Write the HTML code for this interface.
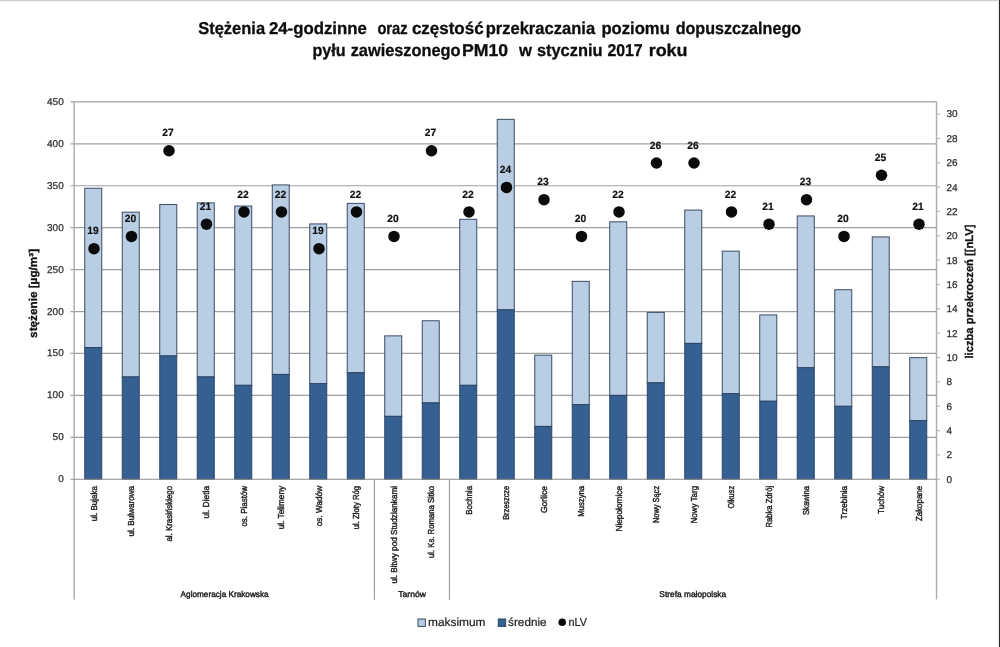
<!DOCTYPE html>
<html lang="pl"><head><meta charset="utf-8"><title>Stężenia 24-godzinne PM10</title>
<style>
html,body{margin:0;padding:0;background:#fff;}
body{width:1000px;height:647px;overflow:hidden;position:relative;font-family:"Liberation Sans",sans-serif;}
svg{position:absolute;left:0;top:0;display:block;}
text{font-family:"Liberation Sans",sans-serif;fill:#1a1a1a;text-rendering:geometricPrecision;}
.t{font-weight:bold;font-size:17.1px;fill:#0d0d0d;stroke:#0d0d0d;stroke-width:0.3px;}
.n{font-size:9.9px;fill:#2e2e2e;stroke:#2e2e2e;stroke-width:0.25px;}
.d{font-size:10.5px;font-weight:bold;fill:#101010;stroke:#101010;stroke-width:0.2px;}
.c{font-size:8.7px;fill:#1c1c1c;stroke:#1c1c1c;stroke-width:0.4px;}
.g{font-size:8.3px;fill:#1c1c1c;stroke:#1c1c1c;stroke-width:0.4px;}
.a{font-size:11.3px;font-weight:bold;fill:#101010;stroke:#101010;stroke-width:0.3px;}
.l{font-size:11.6px;fill:#222;stroke:#222;stroke-width:0.2px;}
</style></head><body>
<svg width="1000" height="647" viewBox="0 0 1000 647">
<rect x="0" y="0" width="1000" height="647" fill="#ffffff"/>
<rect x="0" y="0" width="1000" height="1" fill="#d2d2d2"/>
<rect x="0" y="1" width="1000" height="1" fill="#f1f1f1"/>
<rect x="999" y="0" width="1" height="647" fill="#2b2b2b"/>
<rect x="998" y="0" width="1" height="647" fill="#e6e6e6"/>

<text class="t" x="198.15" y="34.2" textLength="66.95" lengthAdjust="spacingAndGlyphs">Stężenia</text>
<text class="t" x="268.90" y="34.2" textLength="97.95" lengthAdjust="spacingAndGlyphs">24-godzinne</text>
<text class="t" x="377.40" y="34.2" textLength="30.20" lengthAdjust="spacingAndGlyphs">oraz</text>
<text class="t" x="411.90" y="34.2" textLength="71.70" lengthAdjust="spacingAndGlyphs">częstość</text>
<text class="t" x="485.65" y="34.2" textLength="109.45" lengthAdjust="spacingAndGlyphs">przekraczania</text>
<text class="t" x="601.40" y="34.2" textLength="68.45" lengthAdjust="spacingAndGlyphs">poziomu</text>
<text class="t" x="675.65" y="34.2" textLength="125.45" lengthAdjust="spacingAndGlyphs">dopuszczalnego</text>
<text class="t" x="312.40" y="56.2" textLength="33.20" lengthAdjust="spacingAndGlyphs">pyłu</text>
<text class="t" x="350.65" y="56.2" textLength="109.95" lengthAdjust="spacingAndGlyphs">zawieszonego</text>
<text class="t" x="461.90" y="56.2" textLength="46.20" lengthAdjust="spacingAndGlyphs">PM10</text>
<text class="t" x="518.90" y="56.2" textLength="12.95" lengthAdjust="spacingAndGlyphs">w</text>
<text class="t" x="536.90" y="56.2" textLength="65.70" lengthAdjust="spacingAndGlyphs">styczniu</text>
<text class="t" x="607.40" y="56.2" textLength="35.20" lengthAdjust="spacingAndGlyphs">2017</text>
<text class="t" x="648.65" y="56.2" textLength="38.95" lengthAdjust="spacingAndGlyphs">roku</text>
<line x1="70.55" x2="936.50" y1="437.32" y2="437.32" stroke="#a0a0a0" stroke-width="1.2"/>
<line x1="70.55" x2="936.50" y1="395.39" y2="395.39" stroke="#a0a0a0" stroke-width="1.2"/>
<line x1="70.55" x2="936.50" y1="353.47" y2="353.47" stroke="#a0a0a0" stroke-width="1.2"/>
<line x1="70.55" x2="936.50" y1="311.54" y2="311.54" stroke="#a0a0a0" stroke-width="1.2"/>
<line x1="70.55" x2="936.50" y1="269.61" y2="269.61" stroke="#a0a0a0" stroke-width="1.2"/>
<line x1="70.55" x2="936.50" y1="227.68" y2="227.68" stroke="#a0a0a0" stroke-width="1.2"/>
<line x1="70.55" x2="936.50" y1="185.76" y2="185.76" stroke="#a0a0a0" stroke-width="1.2"/>
<line x1="70.55" x2="936.50" y1="143.83" y2="143.83" stroke="#a0a0a0" stroke-width="1.2"/>
<line x1="70.55" x2="936.50" y1="101.90" y2="101.90" stroke="#a0a0a0" stroke-width="1.2"/>
<text class="n" x="63.7" y="482.25" text-anchor="end" textLength="5.55" lengthAdjust="spacingAndGlyphs">0</text>
<text class="n" x="63.7" y="440.32" text-anchor="end" textLength="11.10" lengthAdjust="spacingAndGlyphs">50</text>
<text class="n" x="63.7" y="398.39" text-anchor="end" textLength="16.65" lengthAdjust="spacingAndGlyphs">100</text>
<text class="n" x="63.7" y="356.47" text-anchor="end" textLength="16.65" lengthAdjust="spacingAndGlyphs">150</text>
<text class="n" x="63.7" y="314.54" text-anchor="end" textLength="16.65" lengthAdjust="spacingAndGlyphs">200</text>
<text class="n" x="63.7" y="272.61" text-anchor="end" textLength="16.65" lengthAdjust="spacingAndGlyphs">250</text>
<text class="n" x="63.7" y="230.68" text-anchor="end" textLength="16.65" lengthAdjust="spacingAndGlyphs">300</text>
<text class="n" x="63.7" y="188.76" text-anchor="end" textLength="16.65" lengthAdjust="spacingAndGlyphs">350</text>
<text class="n" x="63.7" y="146.83" text-anchor="end" textLength="16.65" lengthAdjust="spacingAndGlyphs">400</text>
<text class="n" x="63.7" y="104.90" text-anchor="end" textLength="16.65" lengthAdjust="spacingAndGlyphs">450</text>
<rect x="84.75" y="188.27" width="17.0" height="159.33" fill="#b9cde5" stroke="#3b4b63" stroke-width="1"/>
<rect x="84.75" y="347.60" width="17.0" height="131.65" fill="#376092" stroke="#2a4568" stroke-width="1"/>
<rect x="122.25" y="212.17" width="17.0" height="164.78" fill="#b9cde5" stroke="#3b4b63" stroke-width="1"/>
<rect x="122.25" y="376.95" width="17.0" height="102.30" fill="#376092" stroke="#2a4568" stroke-width="1"/>
<rect x="159.75" y="204.54" width="17.0" height="151.44" fill="#b9cde5" stroke="#3b4b63" stroke-width="1"/>
<rect x="159.75" y="355.98" width="17.0" height="123.27" fill="#376092" stroke="#2a4568" stroke-width="1"/>
<rect x="197.25" y="202.86" width="17.0" height="174.08" fill="#b9cde5" stroke="#3b4b63" stroke-width="1"/>
<rect x="197.25" y="376.95" width="17.0" height="102.30" fill="#376092" stroke="#2a4568" stroke-width="1"/>
<rect x="234.75" y="206.05" width="17.0" height="179.28" fill="#b9cde5" stroke="#3b4b63" stroke-width="1"/>
<rect x="234.75" y="385.33" width="17.0" height="93.92" fill="#376092" stroke="#2a4568" stroke-width="1"/>
<rect x="272.25" y="184.92" width="17.0" height="189.51" fill="#b9cde5" stroke="#3b4b63" stroke-width="1"/>
<rect x="272.25" y="374.43" width="17.0" height="104.82" fill="#376092" stroke="#2a4568" stroke-width="1"/>
<rect x="309.75" y="223.91" width="17.0" height="159.74" fill="#b9cde5" stroke="#3b4b63" stroke-width="1"/>
<rect x="309.75" y="383.65" width="17.0" height="95.60" fill="#376092" stroke="#2a4568" stroke-width="1"/>
<rect x="347.25" y="203.37" width="17.0" height="169.39" fill="#b9cde5" stroke="#3b4b63" stroke-width="1"/>
<rect x="347.25" y="372.75" width="17.0" height="106.50" fill="#376092" stroke="#2a4568" stroke-width="1"/>
<rect x="384.75" y="335.86" width="17.0" height="80.50" fill="#b9cde5" stroke="#3b4b63" stroke-width="1"/>
<rect x="384.75" y="416.36" width="17.0" height="62.89" fill="#376092" stroke="#2a4568" stroke-width="1"/>
<rect x="422.25" y="320.76" width="17.0" height="82.18" fill="#b9cde5" stroke="#3b4b63" stroke-width="1"/>
<rect x="422.25" y="402.94" width="17.0" height="76.31" fill="#376092" stroke="#2a4568" stroke-width="1"/>
<rect x="459.75" y="219.30" width="17.0" height="166.03" fill="#b9cde5" stroke="#3b4b63" stroke-width="1"/>
<rect x="459.75" y="385.33" width="17.0" height="93.92" fill="#376092" stroke="#2a4568" stroke-width="1"/>
<rect x="497.25" y="119.34" width="17.0" height="190.52" fill="#b9cde5" stroke="#3b4b63" stroke-width="1"/>
<rect x="497.25" y="309.86" width="17.0" height="169.39" fill="#376092" stroke="#2a4568" stroke-width="1"/>
<rect x="534.75" y="355.14" width="17.0" height="71.28" fill="#b9cde5" stroke="#3b4b63" stroke-width="1"/>
<rect x="534.75" y="426.42" width="17.0" height="52.83" fill="#376092" stroke="#2a4568" stroke-width="1"/>
<rect x="572.25" y="281.35" width="17.0" height="123.27" fill="#b9cde5" stroke="#3b4b63" stroke-width="1"/>
<rect x="572.25" y="404.62" width="17.0" height="74.63" fill="#376092" stroke="#2a4568" stroke-width="1"/>
<rect x="609.75" y="221.81" width="17.0" height="173.58" fill="#b9cde5" stroke="#3b4b63" stroke-width="1"/>
<rect x="609.75" y="395.39" width="17.0" height="83.86" fill="#376092" stroke="#2a4568" stroke-width="1"/>
<rect x="647.25" y="312.38" width="17.0" height="70.44" fill="#b9cde5" stroke="#3b4b63" stroke-width="1"/>
<rect x="647.25" y="382.82" width="17.0" height="96.43" fill="#376092" stroke="#2a4568" stroke-width="1"/>
<rect x="684.75" y="210.07" width="17.0" height="133.33" fill="#b9cde5" stroke="#3b4b63" stroke-width="1"/>
<rect x="684.75" y="343.40" width="17.0" height="135.85" fill="#376092" stroke="#2a4568" stroke-width="1"/>
<rect x="722.25" y="251.16" width="17.0" height="142.55" fill="#b9cde5" stroke="#3b4b63" stroke-width="1"/>
<rect x="722.25" y="393.72" width="17.0" height="85.53" fill="#376092" stroke="#2a4568" stroke-width="1"/>
<rect x="759.75" y="314.89" width="17.0" height="86.37" fill="#b9cde5" stroke="#3b4b63" stroke-width="1"/>
<rect x="759.75" y="401.26" width="17.0" height="77.99" fill="#376092" stroke="#2a4568" stroke-width="1"/>
<rect x="797.25" y="215.94" width="17.0" height="151.78" fill="#b9cde5" stroke="#3b4b63" stroke-width="1"/>
<rect x="797.25" y="367.72" width="17.0" height="111.53" fill="#376092" stroke="#2a4568" stroke-width="1"/>
<rect x="834.75" y="289.74" width="17.0" height="116.56" fill="#b9cde5" stroke="#3b4b63" stroke-width="1"/>
<rect x="834.75" y="406.30" width="17.0" height="72.95" fill="#376092" stroke="#2a4568" stroke-width="1"/>
<rect x="872.25" y="236.91" width="17.0" height="129.98" fill="#b9cde5" stroke="#3b4b63" stroke-width="1"/>
<rect x="872.25" y="366.88" width="17.0" height="112.37" fill="#376092" stroke="#2a4568" stroke-width="1"/>
<rect x="909.75" y="357.66" width="17.0" height="62.89" fill="#b9cde5" stroke="#3b4b63" stroke-width="1"/>
<rect x="909.75" y="420.55" width="17.0" height="58.70" fill="#376092" stroke="#2a4568" stroke-width="1"/>
<line x1="74.15" x2="74.15" y1="101.20" y2="599.6" stroke="#acacac" stroke-width="1.4"/>
<line x1="936.50" x2="936.50" y1="101.20" y2="599.6" stroke="#acacac" stroke-width="1.4"/>
<line x1="70.55" x2="936.50" y1="479.25" y2="479.25" stroke="#8e8e8e" stroke-width="1.2"/>
<line x1="374.45" x2="374.45" y1="479.25" y2="599.8" stroke="#989898" stroke-width="1.1"/>
<line x1="449.43" x2="449.43" y1="479.25" y2="599.8" stroke="#989898" stroke-width="1.1"/>
<line x1="936.50" x2="939.90" y1="479.25" y2="479.25" stroke="#b2b2b2" stroke-width="1.1"/>
<text class="n" x="946.4" y="482.65" textLength="5.55" lengthAdjust="spacingAndGlyphs">0</text>
<line x1="936.50" x2="939.90" y1="454.90" y2="454.90" stroke="#b2b2b2" stroke-width="1.1"/>
<text class="n" x="946.4" y="458.30" textLength="5.55" lengthAdjust="spacingAndGlyphs">2</text>
<line x1="936.50" x2="939.90" y1="430.56" y2="430.56" stroke="#b2b2b2" stroke-width="1.1"/>
<text class="n" x="946.4" y="433.96" textLength="5.55" lengthAdjust="spacingAndGlyphs">4</text>
<line x1="936.50" x2="939.90" y1="406.21" y2="406.21" stroke="#b2b2b2" stroke-width="1.1"/>
<text class="n" x="946.4" y="409.61" textLength="5.55" lengthAdjust="spacingAndGlyphs">6</text>
<line x1="936.50" x2="939.90" y1="381.87" y2="381.87" stroke="#b2b2b2" stroke-width="1.1"/>
<text class="n" x="946.4" y="385.27" textLength="5.55" lengthAdjust="spacingAndGlyphs">8</text>
<line x1="936.50" x2="939.90" y1="357.52" y2="357.52" stroke="#b2b2b2" stroke-width="1.1"/>
<text class="n" x="946.4" y="360.92" textLength="11.10" lengthAdjust="spacingAndGlyphs">10</text>
<line x1="936.50" x2="939.90" y1="333.18" y2="333.18" stroke="#b2b2b2" stroke-width="1.1"/>
<text class="n" x="946.4" y="336.58" textLength="11.10" lengthAdjust="spacingAndGlyphs">12</text>
<line x1="936.50" x2="939.90" y1="308.83" y2="308.83" stroke="#b2b2b2" stroke-width="1.1"/>
<text class="n" x="946.4" y="312.23" textLength="11.10" lengthAdjust="spacingAndGlyphs">14</text>
<line x1="936.50" x2="939.90" y1="284.49" y2="284.49" stroke="#b2b2b2" stroke-width="1.1"/>
<text class="n" x="946.4" y="287.89" textLength="11.10" lengthAdjust="spacingAndGlyphs">16</text>
<line x1="936.50" x2="939.90" y1="260.14" y2="260.14" stroke="#b2b2b2" stroke-width="1.1"/>
<text class="n" x="946.4" y="263.54" textLength="11.10" lengthAdjust="spacingAndGlyphs">18</text>
<line x1="936.50" x2="939.90" y1="235.80" y2="235.80" stroke="#b2b2b2" stroke-width="1.1"/>
<text class="n" x="946.4" y="239.20" textLength="11.10" lengthAdjust="spacingAndGlyphs">20</text>
<line x1="936.50" x2="939.90" y1="211.45" y2="211.45" stroke="#b2b2b2" stroke-width="1.1"/>
<text class="n" x="946.4" y="214.85" textLength="11.10" lengthAdjust="spacingAndGlyphs">22</text>
<line x1="936.50" x2="939.90" y1="187.11" y2="187.11" stroke="#b2b2b2" stroke-width="1.1"/>
<text class="n" x="946.4" y="190.51" textLength="11.10" lengthAdjust="spacingAndGlyphs">24</text>
<line x1="936.50" x2="939.90" y1="162.76" y2="162.76" stroke="#b2b2b2" stroke-width="1.1"/>
<text class="n" x="946.4" y="166.16" textLength="11.10" lengthAdjust="spacingAndGlyphs">26</text>
<line x1="936.50" x2="939.90" y1="138.42" y2="138.42" stroke="#b2b2b2" stroke-width="1.1"/>
<text class="n" x="946.4" y="141.82" textLength="11.10" lengthAdjust="spacingAndGlyphs">28</text>
<line x1="936.50" x2="939.90" y1="114.07" y2="114.07" stroke="#b2b2b2" stroke-width="1.1"/>
<text class="n" x="946.4" y="117.47" textLength="11.10" lengthAdjust="spacingAndGlyphs">30</text>
<circle cx="94.00" cy="248.64" r="5.75" fill="#0a0a0a"/>
<text class="d" x="93.00" y="234.34" text-anchor="middle" textLength="11.4" lengthAdjust="spacingAndGlyphs">19</text>
<circle cx="131.50" cy="236.40" r="5.75" fill="#0a0a0a"/>
<text class="d" x="130.50" y="222.10" text-anchor="middle" textLength="11.4" lengthAdjust="spacingAndGlyphs">20</text>
<circle cx="169.00" cy="150.72" r="5.75" fill="#0a0a0a"/>
<text class="d" x="168.00" y="136.42" text-anchor="middle" textLength="11.4" lengthAdjust="spacingAndGlyphs">27</text>
<circle cx="206.50" cy="224.16" r="5.75" fill="#0a0a0a"/>
<text class="d" x="205.50" y="209.86" text-anchor="middle" textLength="11.4" lengthAdjust="spacingAndGlyphs">21</text>
<circle cx="244.00" cy="211.92" r="5.75" fill="#0a0a0a"/>
<text class="d" x="243.00" y="197.62" text-anchor="middle" textLength="11.4" lengthAdjust="spacingAndGlyphs">22</text>
<circle cx="281.50" cy="211.92" r="5.75" fill="#0a0a0a"/>
<text class="d" x="280.50" y="197.62" text-anchor="middle" textLength="11.4" lengthAdjust="spacingAndGlyphs">22</text>
<circle cx="319.00" cy="248.64" r="5.75" fill="#0a0a0a"/>
<text class="d" x="318.00" y="234.34" text-anchor="middle" textLength="11.4" lengthAdjust="spacingAndGlyphs">19</text>
<circle cx="356.50" cy="211.92" r="5.75" fill="#0a0a0a"/>
<text class="d" x="355.50" y="197.62" text-anchor="middle" textLength="11.4" lengthAdjust="spacingAndGlyphs">22</text>
<circle cx="394.00" cy="236.40" r="5.75" fill="#0a0a0a"/>
<text class="d" x="393.00" y="222.10" text-anchor="middle" textLength="11.4" lengthAdjust="spacingAndGlyphs">20</text>
<circle cx="431.50" cy="150.72" r="5.75" fill="#0a0a0a"/>
<text class="d" x="430.50" y="136.42" text-anchor="middle" textLength="11.4" lengthAdjust="spacingAndGlyphs">27</text>
<circle cx="469.00" cy="211.92" r="5.75" fill="#0a0a0a"/>
<text class="d" x="468.00" y="197.62" text-anchor="middle" textLength="11.4" lengthAdjust="spacingAndGlyphs">22</text>
<circle cx="506.50" cy="187.44" r="5.75" fill="#0a0a0a"/>
<text class="d" x="505.50" y="173.14" text-anchor="middle" textLength="11.4" lengthAdjust="spacingAndGlyphs">24</text>
<circle cx="544.00" cy="199.68" r="5.75" fill="#0a0a0a"/>
<text class="d" x="543.00" y="185.38" text-anchor="middle" textLength="11.4" lengthAdjust="spacingAndGlyphs">23</text>
<circle cx="581.50" cy="236.40" r="5.75" fill="#0a0a0a"/>
<text class="d" x="580.50" y="222.10" text-anchor="middle" textLength="11.4" lengthAdjust="spacingAndGlyphs">20</text>
<circle cx="619.00" cy="211.92" r="5.75" fill="#0a0a0a"/>
<text class="d" x="618.00" y="197.62" text-anchor="middle" textLength="11.4" lengthAdjust="spacingAndGlyphs">22</text>
<circle cx="656.50" cy="162.96" r="5.75" fill="#0a0a0a"/>
<text class="d" x="655.50" y="148.66" text-anchor="middle" textLength="11.4" lengthAdjust="spacingAndGlyphs">26</text>
<circle cx="694.00" cy="162.96" r="5.75" fill="#0a0a0a"/>
<text class="d" x="693.00" y="148.66" text-anchor="middle" textLength="11.4" lengthAdjust="spacingAndGlyphs">26</text>
<circle cx="731.50" cy="211.92" r="5.75" fill="#0a0a0a"/>
<text class="d" x="730.50" y="197.62" text-anchor="middle" textLength="11.4" lengthAdjust="spacingAndGlyphs">22</text>
<circle cx="769.00" cy="224.16" r="5.75" fill="#0a0a0a"/>
<text class="d" x="768.00" y="209.86" text-anchor="middle" textLength="11.4" lengthAdjust="spacingAndGlyphs">21</text>
<circle cx="806.50" cy="199.68" r="5.75" fill="#0a0a0a"/>
<text class="d" x="805.50" y="185.38" text-anchor="middle" textLength="11.4" lengthAdjust="spacingAndGlyphs">23</text>
<circle cx="844.00" cy="236.40" r="5.75" fill="#0a0a0a"/>
<text class="d" x="843.00" y="222.10" text-anchor="middle" textLength="11.4" lengthAdjust="spacingAndGlyphs">20</text>
<circle cx="881.50" cy="175.20" r="5.75" fill="#0a0a0a"/>
<text class="d" x="880.50" y="160.90" text-anchor="middle" textLength="11.4" lengthAdjust="spacingAndGlyphs">25</text>
<circle cx="919.00" cy="224.16" r="5.75" fill="#0a0a0a"/>
<text class="d" x="918.00" y="209.86" text-anchor="middle" textLength="11.4" lengthAdjust="spacingAndGlyphs">21</text>
<text class="c" transform="translate(96.75,485.9) rotate(-90)" text-anchor="end" textLength="35.45" lengthAdjust="spacingAndGlyphs">ul. Bujaka</text>
<text class="c" transform="translate(134.25,485.9) rotate(-90)" text-anchor="end" textLength="50.70" lengthAdjust="spacingAndGlyphs">ul. Bulwarowa</text>
<text class="c" transform="translate(171.75,485.9) rotate(-90)" text-anchor="end" textLength="55.70" lengthAdjust="spacingAndGlyphs">al. Krasińskiego</text>
<text class="c" transform="translate(209.25,485.9) rotate(-90)" text-anchor="end" textLength="32.70" lengthAdjust="spacingAndGlyphs">ul. Dietla</text>
<text class="c" transform="translate(246.75,485.9) rotate(-90)" text-anchor="end" textLength="40.70" lengthAdjust="spacingAndGlyphs">os. Piastów</text>
<text class="c" transform="translate(284.25,485.9) rotate(-90)" text-anchor="end" textLength="43.45" lengthAdjust="spacingAndGlyphs">ul. Telimeny</text>
<text class="c" transform="translate(321.75,485.9) rotate(-90)" text-anchor="end" textLength="40.40" lengthAdjust="spacingAndGlyphs">os. Wadów</text>
<text class="c" transform="translate(359.25,485.9) rotate(-90)" text-anchor="end" textLength="43.45" lengthAdjust="spacingAndGlyphs">ul. Złoty Róg</text>
<text class="c" transform="translate(396.75,485.9) rotate(-90)" text-anchor="end" textLength="97.70" lengthAdjust="spacingAndGlyphs">ul. Bitwy pod Studziankami</text>
<text class="c" transform="translate(434.25,485.9) rotate(-90)" text-anchor="end" textLength="72.20" lengthAdjust="spacingAndGlyphs">ul. Ks. Romana Sitko</text>
<text class="c" transform="translate(471.75,485.9) rotate(-90)" text-anchor="end" textLength="28.95" lengthAdjust="spacingAndGlyphs">Bochnia</text>
<text class="c" transform="translate(509.25,485.9) rotate(-90)" text-anchor="end" textLength="33.95" lengthAdjust="spacingAndGlyphs">Brzeszcze</text>
<text class="c" transform="translate(546.75,485.9) rotate(-90)" text-anchor="end" textLength="27.20" lengthAdjust="spacingAndGlyphs">Gorlice</text>
<text class="c" transform="translate(584.25,485.9) rotate(-90)" text-anchor="end" textLength="30.95" lengthAdjust="spacingAndGlyphs">Muszyna</text>
<text class="c" transform="translate(621.75,485.9) rotate(-90)" text-anchor="end" textLength="45.70" lengthAdjust="spacingAndGlyphs">Niepołomice</text>
<text class="c" transform="translate(659.25,485.9) rotate(-90)" text-anchor="end" textLength="37.20" lengthAdjust="spacingAndGlyphs">Nowy Sącz</text>
<text class="c" transform="translate(696.75,485.9) rotate(-90)" text-anchor="end" textLength="37.70" lengthAdjust="spacingAndGlyphs">Nowy Targ</text>
<text class="c" transform="translate(734.25,485.9) rotate(-90)" text-anchor="end" textLength="22.70" lengthAdjust="spacingAndGlyphs">Olkusz</text>
<text class="c" transform="translate(771.75,485.9) rotate(-90)" text-anchor="end" textLength="41.70" lengthAdjust="spacingAndGlyphs">Rabka Zdrój</text>
<text class="c" transform="translate(809.25,485.9) rotate(-90)" text-anchor="end" textLength="29.20" lengthAdjust="spacingAndGlyphs">Skawina</text>
<text class="c" transform="translate(846.75,485.9) rotate(-90)" text-anchor="end" textLength="33.30" lengthAdjust="spacingAndGlyphs">Trzebinia</text>
<text class="c" transform="translate(884.25,485.9) rotate(-90)" text-anchor="end" textLength="28.00" lengthAdjust="spacingAndGlyphs">Tuchów</text>
<text class="c" transform="translate(921.75,485.9) rotate(-90)" text-anchor="end" textLength="35.20" lengthAdjust="spacingAndGlyphs">Zakopane</text>
<text class="g" x="224.62" y="596.8" text-anchor="middle" textLength="88" lengthAdjust="spacingAndGlyphs">Aglomeracja Krakowska</text>
<text class="g" x="412.09" y="596.8" text-anchor="middle" textLength="27.7" lengthAdjust="spacingAndGlyphs">Tarnów</text>
<text class="g" x="692.79" y="596.8" text-anchor="middle" textLength="66.8" lengthAdjust="spacingAndGlyphs">Strefa małopolska</text>
<text class="a" transform="translate(36.5,293.4) rotate(-90)" text-anchor="middle" textLength="89" lengthAdjust="spacingAndGlyphs">stężenie [µg/m³]</text>
<text class="a" transform="translate(973.0,291.5) rotate(-90)" text-anchor="middle" textLength="134" lengthAdjust="spacingAndGlyphs">liczba przekroczeń [[nLV]</text>
<rect x="418" y="619" width="7.4" height="7.4" fill="#b9cde5" stroke="#3b4b63" stroke-width="1"/>
<text class="l" x="428.0" y="625.7" textLength="57.5" lengthAdjust="spacingAndGlyphs">maksimum</text>
<rect x="498.3" y="619" width="7.4" height="7.4" fill="#376092" stroke="#2a4568" stroke-width="1"/>
<text class="l" x="508.1" y="625.7" textLength="38.5" lengthAdjust="spacingAndGlyphs">średnie</text>
<circle cx="562.2" cy="622.2" r="3.8" fill="#0a0a0a"/>
<text class="l" x="568.6" y="625.7" textLength="18.5" lengthAdjust="spacingAndGlyphs">nLV</text>
</svg></body></html>
